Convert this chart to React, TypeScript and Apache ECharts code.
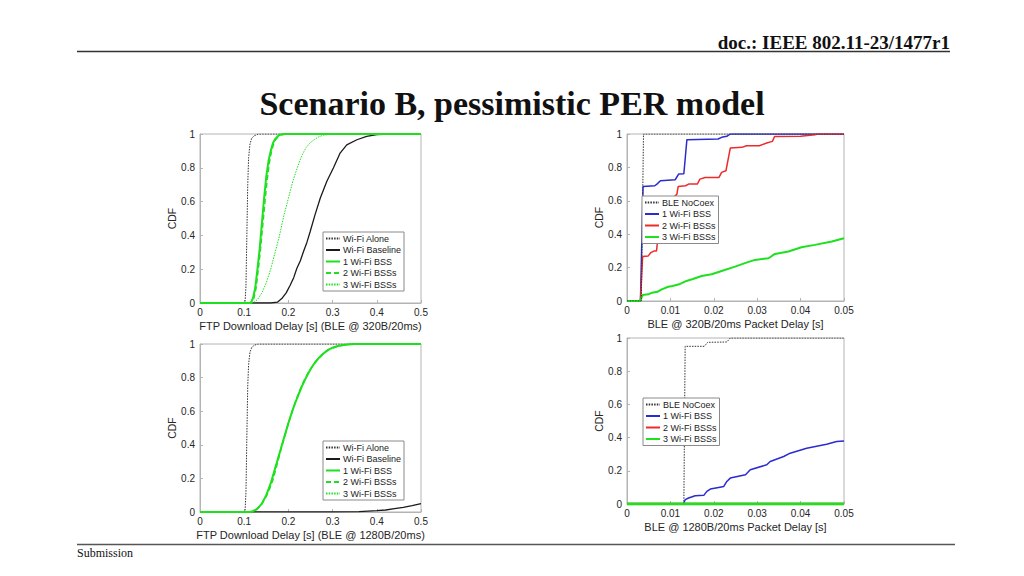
import React, { useEffect, useRef } from 'react';
import * as echarts from 'echarts';

type Pt = [number, number];

// ---------- Panel 1: FTP download delay, BLE @ 320B/20ms ----------
const p1WifiAlone: Pt[] = [[0, 0], [0.1, 0], [0.102, 0.01], [0.104, 0.1], [0.106, 0.4], [0.108, 0.7], [0.11, 0.86], [0.113, 0.94], [0.117, 0.975], [0.123, 0.99], [0.132, 1], [0.5, 1]];
const p1WifiBaseline: Pt[] = [[0, 0], [0.16, 0], [0.175, 0.005], [0.185, 0.026], [0.195, 0.06], [0.204, 0.105], [0.212, 0.15], [0.219, 0.204], [0.227, 0.25], [0.234, 0.303], [0.242, 0.36], [0.249, 0.42], [0.26, 0.52], [0.272, 0.62], [0.287, 0.72], [0.302, 0.8], [0.317, 0.887], [0.332, 0.936], [0.355, 0.966], [0.377, 0.986], [0.4, 0.996], [0.43, 1], [0.5, 1]];
const p1Bss1: Pt[] = [[0, 0], [0.115, 0], [0.12, 0.03], [0.125, 0.09], [0.13, 0.2], [0.135, 0.32], [0.14, 0.47], [0.145, 0.62], [0.15, 0.75], [0.155, 0.84], [0.16, 0.9], [0.165, 0.945], [0.17, 0.97], [0.175, 0.985], [0.18, 0.995], [0.19, 1], [0.5, 1]];
const p1Bss2: Pt[] = [[0, 0], [0.117, 0], [0.122, 0.03], [0.127, 0.09], [0.132, 0.2], [0.137, 0.32], [0.142, 0.46], [0.147, 0.6], [0.152, 0.73], [0.157, 0.83], [0.162, 0.9], [0.167, 0.945], [0.172, 0.97], [0.178, 0.985], [0.184, 0.995], [0.195, 1], [0.5, 1]];
const p1Bss3: Pt[] = [[0, 0], [0.12, 0], [0.13, 0.02], [0.14, 0.06], [0.15, 0.12], [0.16, 0.2], [0.17, 0.3], [0.18, 0.4], [0.19, 0.52], [0.2, 0.62], [0.21, 0.72], [0.22, 0.8], [0.23, 0.87], [0.24, 0.92], [0.25, 0.95], [0.26, 0.97], [0.27, 0.985], [0.28, 0.993], [0.3, 1], [0.5, 1]];

// ---------- Panel 2: BLE @ 320B/20ms packet delay ----------
const p2NoCoex: Pt[] = [[0, 0], [0.0033, 0], [0.0038, 1], [0.05, 1]];
const p2Bss1: Pt[] = [[0, 0], [0.0031, 0], [0.0037, 0.686], [0.0064, 0.69], [0.0069, 0.7], [0.0077, 0.72], [0.0111, 0.726], [0.0119, 0.76], [0.0131, 0.762], [0.0138, 0.966], [0.021, 0.97], [0.0218, 0.98], [0.023, 0.986], [0.0238, 1], [0.05, 1]];
const p2Bss2: Pt[] = [[0, 0], [0.0031, 0], [0.0036, 0.266], [0.0049, 0.27], [0.0055, 0.29], [0.0063, 0.3], [0.0068, 0.3], [0.0073, 0.42], [0.0085, 0.52], [0.01, 0.6], [0.0115, 0.64], [0.0118, 0.686], [0.0135, 0.69], [0.0142, 0.7], [0.0162, 0.7], [0.0168, 0.73], [0.018, 0.74], [0.0212, 0.74], [0.0218, 0.77], [0.0228, 0.78], [0.0238, 0.916], [0.0265, 0.92], [0.0275, 0.93], [0.0305, 0.93], [0.0322, 0.946], [0.0335, 0.956], [0.034, 0.985], [0.04, 0.986], [0.0433, 0.996], [0.044, 1], [0.05, 1]];
const p2Bss3: Pt[] = [[0, 0], [0.003, 0], [0.0036, 0.036], [0.0049, 0.04], [0.0058, 0.05], [0.007, 0.055], [0.008, 0.07], [0.0095, 0.085], [0.0105, 0.09], [0.012, 0.1], [0.0137, 0.12], [0.015, 0.13], [0.0172, 0.15], [0.0195, 0.16], [0.0218, 0.18], [0.0249, 0.206], [0.0275, 0.23], [0.0295, 0.246], [0.0326, 0.256], [0.0341, 0.282], [0.0372, 0.296], [0.0402, 0.322], [0.0433, 0.336], [0.0472, 0.356], [0.05, 0.376]];

// ---------- Panel 3: FTP download delay, BLE @ 1280B/20ms ----------
const p3WifiAlone: Pt[] = [[0, 0], [0.1, 0], [0.102, 0.01], [0.104, 0.12], [0.106, 0.45], [0.108, 0.75], [0.11, 0.88], [0.113, 0.95], [0.117, 0.98], [0.123, 0.993], [0.132, 1], [0.5, 1]];
const p3WifiBaseline: Pt[] = [[0, 0], [0.3, 0.001], [0.36, 0.002], [0.38, 0.005], [0.4, 0.008], [0.42, 0.012], [0.44, 0.02], [0.46, 0.028], [0.48, 0.038], [0.5, 0.05]];
const p3Bss1: Pt[] = [[0, 0], [0.112, 0], [0.12, 0.005], [0.13, 0.02], [0.14, 0.05], [0.15, 0.1], [0.16, 0.17], [0.17, 0.26], [0.18, 0.35], [0.19, 0.44], [0.2, 0.53], [0.21, 0.61], [0.22, 0.68], [0.23, 0.745], [0.24, 0.8], [0.25, 0.85], [0.26, 0.89], [0.27, 0.92], [0.28, 0.945], [0.29, 0.965], [0.3, 0.978], [0.31, 0.987], [0.32, 0.993], [0.34, 0.998], [0.35, 1], [0.5, 1]];
const p3Bss2: Pt[] = [[0, 0], [0.115, 0], [0.125, 0.01], [0.135, 0.03], [0.145, 0.07], [0.155, 0.12], [0.165, 0.19], [0.175, 0.29], [0.185, 0.39], [0.195, 0.48], [0.205, 0.57], [0.215, 0.65], [0.225, 0.72], [0.235, 0.78], [0.245, 0.83], [0.255, 0.87], [0.265, 0.905], [0.275, 0.935], [0.285, 0.957], [0.295, 0.972], [0.31, 0.985], [0.33, 0.995], [0.35, 1], [0.5, 1]];
const p3Bss3: Pt[] = [[0, 0], [0.113, 0], [0.12, 0.006], [0.13, 0.022], [0.14, 0.055], [0.15, 0.105], [0.16, 0.175], [0.17, 0.265], [0.18, 0.355], [0.19, 0.445], [0.2, 0.535], [0.21, 0.615], [0.22, 0.685], [0.23, 0.75], [0.24, 0.805], [0.25, 0.853], [0.26, 0.892], [0.27, 0.923], [0.28, 0.947], [0.29, 0.966], [0.3, 0.979], [0.32, 0.993], [0.35, 1], [0.5, 1]];

// ---------- Panel 4: BLE @ 1280B/20ms packet delay ----------
const p4NoCoex: Pt[] = [[0, 0], [0.0131, 0], [0.0134, 0.95], [0.0178, 0.95], [0.0186, 0.974], [0.023, 0.976], [0.0238, 1], [0.05, 1]];
const p4Bss1: Pt[] = [[0, 0], [0.013, 0], [0.0134, 0.026], [0.0142, 0.036], [0.0157, 0.05], [0.0177, 0.052], [0.0184, 0.076], [0.0192, 0.09], [0.0211, 0.1], [0.0223, 0.106], [0.023, 0.136], [0.0238, 0.156], [0.0273, 0.176], [0.0284, 0.206], [0.0322, 0.236], [0.033, 0.256], [0.0361, 0.286], [0.0376, 0.306], [0.0414, 0.336], [0.046, 0.36], [0.0483, 0.376], [0.05, 0.38]];
const p4Bss2: Pt[] = [[0, 0], [0.05, 0]];
const p4Bss3: Pt[] = [[0, 0], [0.05, 0]];

// ---------- Labels ----------
const ftpLegend = ['Wi-Fi Alone', 'Wi-Fi Baseline', '1 Wi-Fi BSS', '2 Wi-Fi BSSs', '3 Wi-Fi BSSs'];
const bleLegend = ['BLE NoCoex', '1 Wi-Fi BSS', '2 Wi-Fi BSSs', '3 Wi-Fi BSSs'];
const xTitles = [
  'FTP Download Delay [s] (BLE @ 320B/20ms)',
  'BLE @ 320B/20ms Packet Delay [s]',
  'FTP Download Delay [s] (BLE @ 1280B/20ms)',
  'BLE @ 1280B/20ms Packet Delay [s]',
];
const yTitle = 'CDF';
const headerText = 'doc.: IEEE 802.11-23/1477r1';
const titleText = 'Scenario B, pessimistic PER model';
const footerText = 'Submission';

const FONT = "'Liberation Sans', Arial, Helvetica, sans-serif";
const SERIF = "'Liberation Serif', 'Times New Roman', serif";
const GREEN = '#1fe01f';
const BLUE = '#2b2bd0';
const RED = '#ee2b2b';
const BLACK = '#1a1a1a';

const grids = [
  { left: 200, top: 134, width: 221, height: 169 },
  { left: 627, top: 134, width: 217, height: 167 },
  { left: 200, top: 344, width: 221, height: 168 },
  { left: 627, top: 338, width: 217, height: 166 },
];

const legendPos = [
  { left: 323, top: 232 },
  { left: 642, top: 196 },
  { left: 323, top: 441 },
  { left: 643, top: 398 },
];

const key = (panel: number, label: string) => `${panel}|${label}`;

function ser(panel: number, label: string, data: Pt[], color: string, width: number, type: any, z = 2) {
  return {
    type: 'line',
    name: key(panel, label),
    xAxisIndex: panel,
    yAxisIndex: panel,
    data,
    symbol: 'none',
    z,
    lineStyle: { color, width, type },
    itemStyle: { color },
    emphasis: { disabled: true },
  };
}

export default function App() {
  const ref = useRef<HTMLDivElement>(null);

  useEffect(() => {
    if (!ref.current) return;
    const chart = echarts.init(ref.current, undefined, { renderer: 'svg' });

    const dotted = [1.5, 1.2];
    const dashed = [5, 3];

    const series = [
      ser(0, ftpLegend[0], p1WifiAlone, '#333', 1, dotted),
      ser(0, ftpLegend[1], p1WifiBaseline, BLACK, 1.3, 'solid'),
      ser(0, ftpLegend[2], p1Bss1, GREEN, 2, 'solid'),
      ser(0, ftpLegend[3], p1Bss2, GREEN, 1.5, dashed),
      ser(0, ftpLegend[4], p1Bss3, GREEN, 1, dotted),

      ser(1, bleLegend[0], p2NoCoex, '#333', 1, dotted, 3),
      ser(1, bleLegend[1], p2Bss1, BLUE, 1.5, 'solid'),
      ser(1, bleLegend[2], p2Bss2, RED, 1.5, 'solid'),
      ser(1, bleLegend[3], p2Bss3, GREEN, 2, 'solid'),

      ser(2, ftpLegend[0], p3WifiAlone, '#333', 1, dotted),
      ser(2, ftpLegend[1], p3WifiBaseline, BLACK, 1.3, 'solid'),
      ser(2, ftpLegend[2], p3Bss1, GREEN, 2, 'solid'),
      ser(2, ftpLegend[3], p3Bss2, GREEN, 1.5, dashed),
      ser(2, ftpLegend[4], p3Bss3, GREEN, 1, dotted),

      ser(3, bleLegend[0], p4NoCoex, '#333', 1, dotted),
      ser(3, bleLegend[1], p4Bss1, BLUE, 1.5, 'solid'),
      ser(3, bleLegend[2], p4Bss2, RED, 2.5, 'solid'),
      ser(3, bleLegend[3], p4Bss3, GREEN, 3, 'solid'),
    ];

    const fmt = (v: number) => String(+v.toFixed(3));
    const axisColor = '#b4b4b4';

    const xAxis = grids.map((_, i) => {
      const ble = i % 2 === 1;
      return {
        type: 'value',
        gridIndex: i,
        min: 0,
        max: ble ? 0.05 : 0.5,
        interval: ble ? 0.01 : 0.1,
        name: xTitles[i],
        nameLocation: 'middle',
        nameGap: 17,
        nameTextStyle: { fontSize: 11, fontFamily: FONT, color: '#262626' },
        axisLine: { show: true, onZero: false, lineStyle: { color: axisColor, width: 1 } },
        axisTick: { show: true, inside: true, length: 3, lineStyle: { color: axisColor } },
        axisLabel: { fontSize: 10, fontFamily: FONT, color: '#262626', margin: 4, formatter: fmt },
        splitLine: { show: false },
      };
    });

    const yAxis = grids.map((_, i) => ({
      type: 'value',
      gridIndex: i,
      min: 0,
      max: 1,
      interval: 0.2,
      name: yTitle,
      nameLocation: 'middle',
      nameGap: 14,
      nameTextStyle: { fontSize: 10.5, fontFamily: FONT, color: '#262626' },
      axisLine: { show: true, lineStyle: { color: axisColor, width: 1 } },
      axisTick: { show: true, inside: true, length: 3, lineStyle: { color: axisColor } },
      axisLabel: { fontSize: 10, fontFamily: FONT, color: '#262626', margin: 5, formatter: fmt },
      splitLine: { show: false },
    }));

    const legend = grids.map((_, i) => {
      const labels = i % 2 === 0 ? ftpLegend : bleLegend;
      return {
        orient: 'vertical',
        left: legendPos[i].left,
        top: legendPos[i].top,
        data: labels.map((l) => key(i, l)),
        formatter: (n: string) => n.split('|')[1],
        itemWidth: 14,
        itemHeight: 8,
        itemGap: 2.5,
        padding: [2, 3, 2, 2],
        backgroundColor: '#ffffff',
        borderColor: '#8a8a8a',
        borderWidth: 1,
        borderRadius: 0,
        selectedMode: false,
        itemStyle: { color: 'rgba(0,0,0,0)', borderColor: 'rgba(0,0,0,0)', borderWidth: 0 },
        textStyle: { fontSize: 9, fontFamily: FONT, color: '#222', padding: [0, 0, 0, -2] },
      };
    });

    chart.setOption({
      animation: false,
      backgroundColor: '#ffffff',
      grid: grids.map((g) => ({ ...g, show: true, borderColor: axisColor, borderWidth: 1, backgroundColor: '#fff', containLabel: false })),
      xAxis,
      yAxis,
      legend,
      series,
      graphic: [
        {
          type: 'text',
          x: 950,
          y: 42,
          style: { text: headerText, align: 'right', verticalAlign: 'middle', font: `bold 19px ${SERIF}`, fill: '#111' },
        },
        { type: 'line', shape: { x1: 77, y1: 51.5, x2: 950, y2: 51.5 }, style: { stroke: '#333', lineWidth: 1.3 } },
        {
          type: 'text',
          x: 512,
          y: 103,
          style: { text: titleText, align: 'center', verticalAlign: 'middle', font: `bold 34px ${SERIF}`, fill: '#111' },
        },
        { type: 'line', shape: { x1: 77, y1: 544.5, x2: 955, y2: 544.5 }, style: { stroke: '#555', lineWidth: 1.5 } },
        {
          type: 'text',
          x: 77,
          y: 553,
          style: { text: footerText, align: 'left', verticalAlign: 'middle', font: `12px ${SERIF}`, fill: '#111' },
        },
      ],
    });

    return () => chart.dispose();
  }, []);

  return <div ref={ref} style={{ position: 'fixed', left: 0, top: 0, width: 1024, height: 576, background: '#fff' }} />;
}
